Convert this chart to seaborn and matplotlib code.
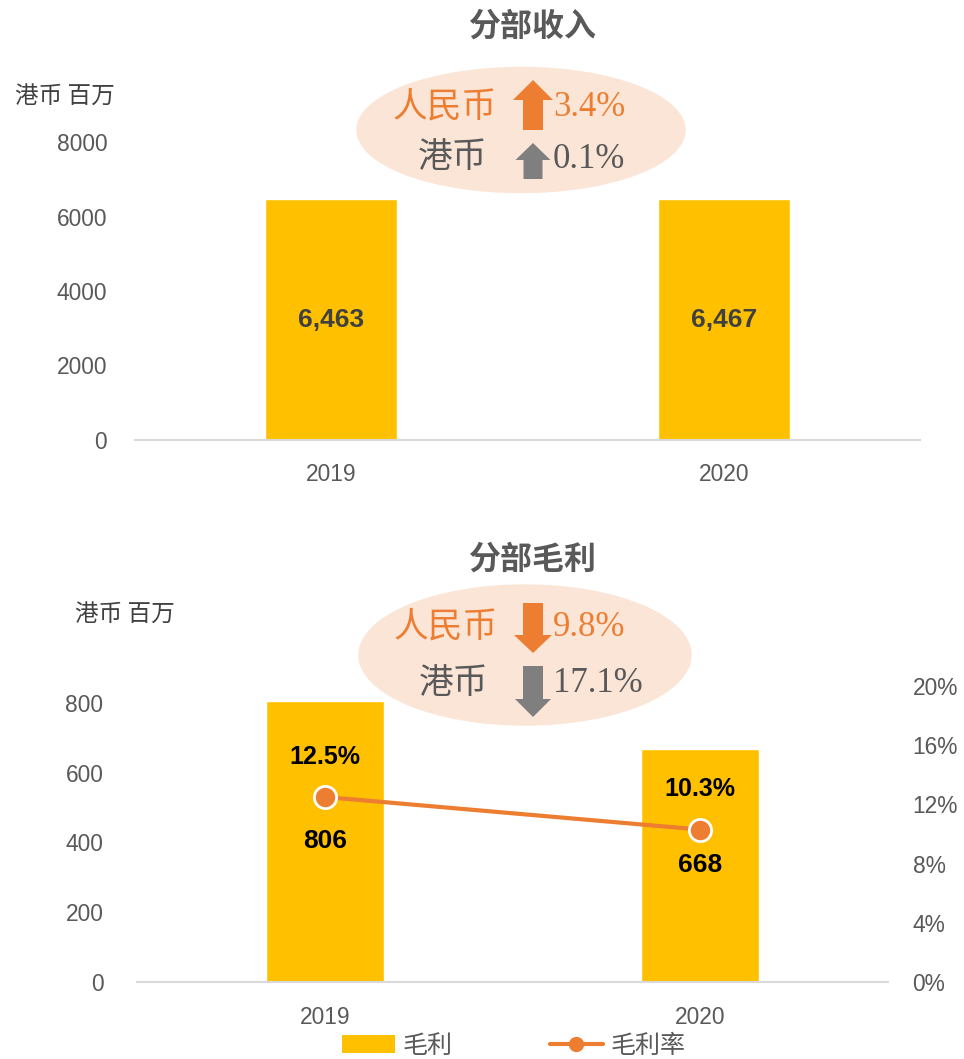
import matplotlib
matplotlib.use("Agg")
import matplotlib.pyplot as plt
from matplotlib import font_manager
from matplotlib.patches import Ellipse, FancyArrow, Patch
from matplotlib.lines import Line2D
import seaborn as sns

# --- data ---
years = ["2019", "2020"]
revenue = [6463, 6467]
revenue_labels = ["6,463", "6,467"]
gross_profit = [806, 668]
gross_margin = [0.125, 0.103]
margin_labels = ["12.5%", "10.3%"]
rev_change = {"人民币": ("up", "3.4%"), "港币": ("up", "0.1%")}
gp_change = {"人民币": ("down", "9.8%"), "港币": ("down", "17.1%")}
rev_ticks = [0, 2000, 4000, 6000, 8000]
gp_ticks = [0, 200, 400, 600, 800]
margin_ticks = [0, 0.04, 0.08, 0.12, 0.16, 0.20]

YELLOW = "#FFC000"
ORANGE = "#ED7D31"
GREY = "#595959"
DARK = "#404040"
PEACH = "#FBE5D6"
ARROW_GREY = "#7F7F7F"

sns.set_style("white")
plt.rcParams["font.family"] = ["Noto Sans CJK SC", "DejaVu Sans"]

names = {f.name for f in font_manager.fontManager.ttflist}
if "Liberation Sans Narrow" in names:
    NUM_FONT, num_scale = ["Liberation Sans Narrow", "DejaVu Sans"], 1.0
else:
    NUM_FONT, num_scale = ["Liberation Sans", "DejaVu Sans"], 0.82
SERIF = ["Liberation Serif", "DejaVu Serif"]

fig = plt.figure(figsize=(9.64, 10.59), dpi=100)

# overlay in pixel coords for titles, ellipses and arrows
ov = fig.add_axes([0, 0, 1, 1], zorder=-1)
ov.set_xlim(0, 964)
ov.set_ylim(1059, 0)
ov.axis("off")

# geometry per row: text y, arrow start y, arrow end y, body w, head w, head len, label x
rows_geom = {
    "up": [(107, 130, 80, 20, 40, 20, 445), (158, 179, 143, 19, 35, 17, 453)],
    "down": [(627, 603, 653, 20, 38, 18, 446), (683, 666, 717, 20, 36, 18, 454)],
}


def style_axes(ax, pad_y, pad_x):
    ax.set_facecolor("none")
    for s in ["top", "right", "left"]:
        ax.spines[s].set_visible(False)
    ax.spines["bottom"].set_color("#D9D9D9")
    ax.spines["bottom"].set_linewidth(1.5)
    ax.tick_params(axis="y", length=0, pad=pad_y, labelsize=20 * num_scale, labelcolor=GREY)
    ax.tick_params(axis="x", length=0, pad=pad_x, labelsize=20 * num_scale, labelcolor=GREY)
    for lab in ax.get_xticklabels() + ax.get_yticklabels():
        lab.set_family(NUM_FONT)
    ax.set_xlabel("")
    ax.set_ylabel("")


def change_badge(cx, cy, w, h, rows):
    ov.add_patch(Ellipse((cx, cy), w, h, color=PEACH, zorder=1))
    direction = list(rows.values())[0][0]
    geom = rows_geom[direction]
    for (label, (_, pct)), color, (ty, ay0, ay1, aw, hw, hl, tx) in zip(
        rows.items(), [ORANGE, ARROW_GREY], geom
    ):
        txt_color = ORANGE if label == "人民币" else GREY
        ov.text(tx, ty, label, color=txt_color, fontsize=25, ha="center", va="center", zorder=3)
        ov.add_patch(FancyArrow(533, ay0, 0, ay1 - ay0, width=aw, head_width=hw,
                                head_length=hl, length_includes_head=True,
                                color=color, lw=0, zorder=2))
        ov.text(553, ty + 1, pct, color=txt_color, fontsize=25, family=SERIF,
                ha="left", va="center", zorder=3)


# ---------------- top: segment revenue ----------------
ax1 = fig.add_axes([135 / 964, (1059 - 440) / 1059, 785 / 964, 298 / 1059])
sns.barplot(x=years, y=revenue, color=YELLOW, saturation=1, width=0.336, ax=ax1)
ax1.set_ylim(0, 8000)
ax1.set_yticks(rev_ticks)
ax1.bar_label(ax1.containers[0], labels=revenue_labels, label_type="center",
              fontsize=23 * num_scale, fontweight="bold", color=DARK, family=NUM_FONT)
style_axes(ax1, pad_y=20, pad_x=16.5)

ov.text(533, 27, "分部收入", fontsize=23, fontweight="bold", color=GREY, ha="center", va="center")
ov.text(15, 97, "港币 百万", fontsize=17, color=DARK, ha="left", va="center")
change_badge(521, 130, 328, 125, rev_change)

# ---------------- bottom: segment gross profit ----------------
ax2 = fig.add_axes([137.5 / 964, (1059 - 982) / 1059, 750 / 964, 296 / 1059])
sns.barplot(x=years, y=gross_profit, color=YELLOW, saturation=1, width=0.315, ax=ax2)
ax2.set_ylim(0, 848)
ax2.set_yticks(gp_ticks)
ax2.bar_label(ax2.containers[0], labels=[str(v) for v in gross_profit], label_type="center",
              fontsize=23 * num_scale, fontweight="bold", color="black", family=NUM_FONT)
style_axes(ax2, pad_y=24.5, pad_x=17.5)

ax3 = ax2.twinx()
sns.pointplot(x=years, y=gross_margin, color=ORANGE, errorbar=None, markers="o",
              markersize=16, linewidth=3, markeredgecolor="white", markeredgewidth=2,
              ax=ax3)
ax3.set_ylim(0, 0.20)
ax3.set_yticks(margin_ticks)
ax3.set_yticklabels([f"{int(round(t * 100))}%" for t in margin_ticks])
for s in ax3.spines.values():
    s.set_visible(False)
ax3.tick_params(axis="y", length=0, pad=18, labelsize=20 * num_scale, labelcolor=GREY)
for lab in ax3.get_yticklabels():
    lab.set_family(NUM_FONT)
ax3.set_ylabel("")
ax3.grid(False)
for i, (v, t) in enumerate(zip(gross_margin, margin_labels)):
    ax3.annotate(t, (i, v), xytext=(0, 29), textcoords="offset points", ha="center",
                 va="center", fontsize=22 * num_scale, fontweight="bold", color="black",
                 family=NUM_FONT)

ov.text(533, 560, "分部毛利", fontsize=23, fontweight="bold", color=GREY, ha="center", va="center")
ov.text(75, 615, "港币 百万", fontsize=17, color=DARK, ha="left", va="center")
change_badge(525, 655, 332, 140, gp_change)

# legend
handles = [Patch(facecolor=YELLOW, edgecolor="none"),
           Line2D([], [], color=ORANGE, lw=3, marker="o", markersize=10)]
fig.legend(handles, ["毛利", "毛利率"], loc="center", bbox_to_anchor=(0.533, 0.0123),
           ncol=2, frameon=False, fontsize=18, labelcolor=GREY, handlelength=2.1,
           handletextpad=0.32, columnspacing=3.9)

fig.savefig("out.png", dpi=100)
